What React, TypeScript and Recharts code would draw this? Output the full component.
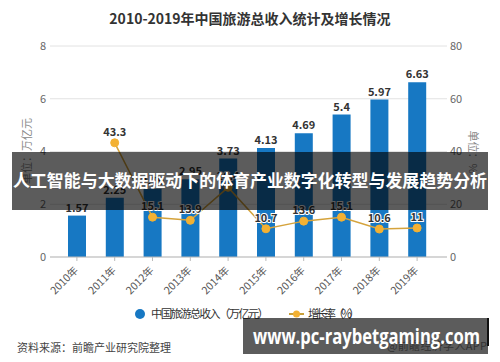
import React from "react";
import {
  ComposedChart,
  Bar,
  Line,
  XAxis,
  YAxis,
  CartesianGrid,
  LabelList,
  Legend,
} from "recharts";

const years = ["2010年", "2011年", "2012年", "2013年", "2014年", "2015年", "2016年", "2017年", "2018年", "2019年"];
const revenue = [1.57, 2.25, 2.59, 2.95, 3.73, 4.13, 4.69, 5.4, 5.97, 6.63];
const growth: (number | null)[] = [null, 43.3, 15.1, 13.9, 26.4, 10.7, 13.6, 15.1, 10.6, 11];
const leftTicks = [0, 2, 4, 6, 8];
const rightTicks = [0, 20, 40, 60, 80];

const data = years.map((year, i) => ({ year, revenue: revenue[i], growth: growth[i] }));

const FONT = '"Noto Sans CJK SC", "Noto Sans", sans-serif';
const BLUE = "#1778c3";
const GOLD = "#f3b133";

function YearTick(props: any) {
  const { x, y, payload } = props;
  return (
    <text
      x={x}
      y={y + 6}
      transform={`rotate(-45, ${x}, ${y + 6})`}
      textAnchor="end"
      dominantBaseline="middle"
      fontSize={10.5}
      fill="#555"
      fontFamily={FONT}
    >
      {payload.value}
    </text>
  );
}

function LegendBox() {
  return (
    <svg width={500} height={20} style={{ display: "block" }}>
      <circle cx={140} cy={10} r={5} fill={BLUE} />
      <text x={151} y={14} fontSize={11.5} fill="#333" fontFamily={FONT} textLength={118}>
        中国旅游总收入（万亿元）
      </text>
      <line x1={289} y1={10} x2={304} y2={10} stroke="#c9a03a" strokeWidth={2} />
      <circle cx={296.5} cy={10} r={3.5} fill={GOLD} />
      <text x={308} y={14} fontSize={11.5} fill="#333" fontFamily={FONT} textLength={52}>
        增长率（%）
      </text>
    </svg>
  );
}

export default function App() {
  return (
    <div
      style={{
        position: "absolute",
        left: 0,
        top: 0,
        width: 500,
        height: 362,
        background: "#fff",
        overflow: "hidden",
        fontFamily: FONT,
      }}
    >
      <div
        style={{
          position: "absolute",
          top: 8,
          left: 0,
          width: 500,
          textAlign: "center",
          fontSize: 14,
          fontWeight: 700,
          color: "#333",
          lineHeight: "20px",
        }}
      >
        2010-2019年中国旅游总收入统计及增长情况
      </div>

      <ComposedChart
        width={500}
        height={362}
        data={data}
        margin={{ top: 46, right: 13, bottom: 55, left: 0 }}
      >
        <CartesianGrid yAxisId="left" vertical={false} stroke="#e2e2e2" />
        <XAxis
          dataKey="year"
          height={50}
          padding={{ left: 8, right: 11 }}
          interval={0}
          tick={<YearTick />}
          tickSize={4}
          tickLine={{ stroke: "#bbb" }}
          axisLine={{ stroke: "#bbb" }}
        />
        <YAxis
          yAxisId="left"
          width={50}
          domain={[0, 8]}
          ticks={leftTicks}
          axisLine={false}
          tickLine={false}
          tickSize={2}
          tickMargin={2}
          tick={{ fontSize: 11, fill: "#666", fontFamily: FONT }}
          label={{
            content: () => (
              <text
                transform="translate(28,151) rotate(-90)"
                textAnchor="middle"
                dominantBaseline="middle"
                fontSize={11}
                fill="#888"
                fontFamily={FONT}
              >
                单位：万亿元
              </text>
            ),
          }}
        />
        <YAxis
          yAxisId="right"
          orientation="right"
          width={40}
          domain={[0, 80]}
          ticks={rightTicks}
          axisLine={false}
          tickLine={false}
          tickSize={0}
          tickMargin={3}
          tick={{ fontSize: 11, fill: "#666", fontFamily: FONT }}
          label={{
            content: () => (
              <text
                transform="translate(472,152) rotate(90)"
                textAnchor="middle"
                dominantBaseline="middle"
                fontSize={11}
                fill="#888"
                fontFamily={FONT}
              >
                单位：%
              </text>
            ),
          }}
        />
        <Legend
          verticalAlign="middle"
          align="center"
          layout="horizontal"
          content={() => <LegendBox />}
          wrapperStyle={{ top: 304, left: 0, width: 500, height: 20 }}
        />
        <Bar yAxisId="left" dataKey="revenue" barSize={18} fill={BLUE} isAnimationActive={false}>
          <LabelList
            dataKey="revenue"
            position="top"
            offset={4}
            fontSize={11}
            fontWeight={600}
            fill="#333"
            fontFamily={FONT}
          />
        </Bar>
        <Line
          yAxisId="right"
          dataKey="growth"
          stroke="#d5a33c"
          strokeWidth={1.5}
          dot={{ r: 4, fill: GOLD, stroke: GOLD, strokeWidth: 1 }}
          activeDot={false}
          isAnimationActive={false}
        >
          <LabelList
            dataKey="growth"
            position="top"
            offset={7}
            fontSize={11}
            fontWeight={600}
            fill="#333"
            stroke="#fff"
            strokeWidth={2}
            paintOrder="stroke"
            fontFamily={FONT}
          />
        </Line>
      </ComposedChart>

      <div
        style={{
          position: "absolute",
          left: 17,
          top: 339,
          fontSize: 11,
          color: "#444",
          lineHeight: "16px",
        }}
      >
        资料来源：前瞻产业研究院整理
      </div>

      <svg
        width={500}
        height={362}
        style={{ position: "absolute", left: 0, top: 0, pointerEvents: "none" }}
      >
        <rect x={12} y={152} width={476} height={58} fill="rgba(0,0,0,0.64)" />
        <text
          x={13}
          y={187}
          fontSize={17}
          fontWeight={700}
          fill="#fff"
          fontFamily={FONT}
          textLength={474}
          lengthAdjust="spacingAndGlyphs"
        >
          人工智能与大数据驱动下的体育产业数字化转型与发展趋势分析
        </text>

        <rect x={243} y={318} width={245} height={36} fill="rgba(0,0,0,0.64)" />
        <rect x={487} y={318} width={2} height={28} fill="#111" />
        <text
          x={387}
          y={350}
          fontSize={11}
          fill="#333"
          fontFamily={FONT}
          textLength={100}
        >
          @前瞻经济学人APP
        </text>
        <text
          x={253}
          y={344}
          fontSize={21}
          fontWeight={700}
          fill="#fff"
          fontFamily='"Open Sans", "DejaVu Sans", sans-serif'
          textLength={227}
          lengthAdjust="spacingAndGlyphs"
        >
          www.pc-raybetgaming.com
        </text>
      </svg>
    </div>
  );
}
